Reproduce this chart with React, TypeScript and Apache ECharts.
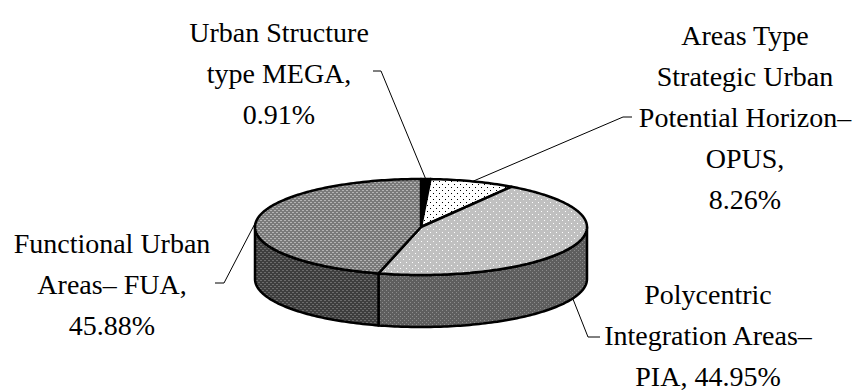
import React, { useEffect, useRef } from "react";
import * as echarts from "echarts";

// ---- data ----
const categories = [
  "Urban Structure type MEGA",
  "Areas Type Strategic Urban Potential Horizon– OPUS",
  "Polycentric Integration Areas– PIA",
  "Functional Urban Areas– FUA",
];
const values = [0.91, 8.26, 44.95, 45.88];
const labelTexts = [
  ["Urban Structure", "type MEGA,", "0.91%"],
  ["Areas Type", "Strategic Urban", "Potential Horizon–", "OPUS,", "8.26%"],
  ["Polycentric", "Integration Areas–", "PIA, 44.95%"],
  ["Functional Urban", "Areas– FUA,", "45.88%"],
];

// ---- layout (positions / styles) ----
const CX = 421;
const CY = 227;
const RX = 166;
const RY = 48;
const DEPTH = 52;
const FONT_FAMILY = "Liberation Serif";
const FONT_SIZE = 28;
const LINE_H = 41;
const labelPos = [
  { x: 279, y: 73, elbow: [381, 71], end: [373, 71] },
  { x: 745, y: 117, elbow: [623, 117], end: [632, 117] },
  { x: 708, y: 335, elbow: [588, 337], end: [600, 337] },
  { x: 112, y: 284, elbow: [224, 283], end: [215, 283] },
];

function tile(w: number, h: number, bg: string, fg: string, pts: number[][]) {
  const c = document.createElement("canvas");
  c.width = w;
  c.height = h;
  const g = c.getContext("2d")!;
  g.fillStyle = bg;
  g.fillRect(0, 0, w, h);
  g.fillStyle = fg;
  pts.forEach(([x, y]) => g.fillRect(x, y, 1, 1));
  return { image: c, repeat: "repeat", imageWidth: w, imageHeight: h } as any;
}

function pt(t: number, dy: number) {
  return [CX + RX * Math.sin(t), CY - RY * Math.cos(t) + dy];
}

export default function App() {
  const ref = useRef<HTMLDivElement>(null);
  useEffect(() => {
    if (!ref.current) return;
    const chart = echarts.init(ref.current, undefined, { renderer: "svg" });

    const topFills = [
      "#000000",
      tile(6, 6, "#ffffff", "#000000", [[1, 1], [4, 4]]),
      tile(6, 6, "#c0c0c0", "#ffffff", [[1, 1], [4, 4]]),
      tile(4, 4, "#7a7a7a", "#b4b4b4", [[0, 0], [1, 0], [2, 2], [3, 2]]),
    ];
    const sideFills = [
      "#000000",
      "#e0e0e0",
      tile(4, 4, "#5e5e5e", "#8c8c8c", [[0, 0], [2, 2]]),
      tile(4, 4, "#3e3e3e", "#6c6c6c", [[0, 0], [1, 0], [2, 2], [3, 2]]),
    ];

    const total = values.reduce((a, b) => a + b, 0);
    const starts: number[] = [];
    let acc = 0;
    values.forEach((v) => {
      starts.push(acc);
      acc += v;
    });

    const renderItem = (params: any, api: any) => {
      const i = params.dataIndex;
      const v = api.value(0);
      const a0 = (starts[i] / total) * Math.PI * 2;
      const a1 = ((starts[i] + v) / total) * Math.PI * 2;
      const children: any[] = [];
      const stroke = { stroke: "#000", lineWidth: 2.5, lineJoin: "round" };

      // side wall (front half only)
      const s0 = Math.max(a0, Math.PI / 2);
      const s1 = Math.min(a1, (Math.PI * 3) / 2);
      if (s1 > s0) {
        const pts: number[][] = [];
        const n = Math.max(2, Math.ceil((s1 - s0) / 0.02));
        for (let k = 0; k <= n; k++) pts.push(pt(s0 + ((s1 - s0) * k) / n, 0));
        for (let k = n; k >= 0; k--) pts.push(pt(s0 + ((s1 - s0) * k) / n, DEPTH));
        children.push({
          type: "polygon",
          shape: { points: pts },
          style: { fill: sideFills[i], ...stroke },
        });
      }

      // top face
      const tp: number[][] = [[CX, CY]];
      const m = Math.max(2, Math.ceil((a1 - a0) / 0.02));
      for (let k = 0; k <= m; k++) tp.push(pt(a0 + ((a1 - a0) * k) / m, 0));
      children.push({
        type: "polygon",
        shape: { points: tp },
        style: { fill: topFills[i], ...stroke },
        z2: 10,
      });

      // leader line
      const mid = (a0 + a1) / 2;
      const front = mid > Math.PI / 2 && mid < (Math.PI * 3) / 2;
      const anchor = pt(mid, front ? DEPTH : 0);
      const lp = labelPos[i];
      children.push({
        type: "polyline",
        shape: { points: [anchor, lp.elbow, lp.end] },
        style: { stroke: "#000", lineWidth: 1, fill: null },
        z2: 20,
      });

      return { type: "group", children };
    };

    chart.setOption({
      animation: false,
      backgroundColor: "#ffffff",
      series: [
        {
          type: "custom",
          coordinateSystem: "none",
          renderItem,
          data: values.map((v, i) => ({ name: categories[i], value: [v] })),
        },
      ],
      graphic: labelTexts.map((lines, i) => ({
        type: "text",
        x: labelPos[i].x,
        y: labelPos[i].y,
        z: 100,
        style: {
          text: lines.join("\n"),
          fontFamily: FONT_FAMILY,
          fontSize: FONT_SIZE,
          fill: "#000",
          textAlign: "center",
          textVerticalAlign: "middle",
          lineHeight: LINE_H,
        },
      })),
    });
    return () => chart.dispose();
  }, []);
  return (
    <div
      ref={ref}
      style={{ position: "fixed", left: 0, top: 0, width: 856, height: 390 }}
    />
  );
}
